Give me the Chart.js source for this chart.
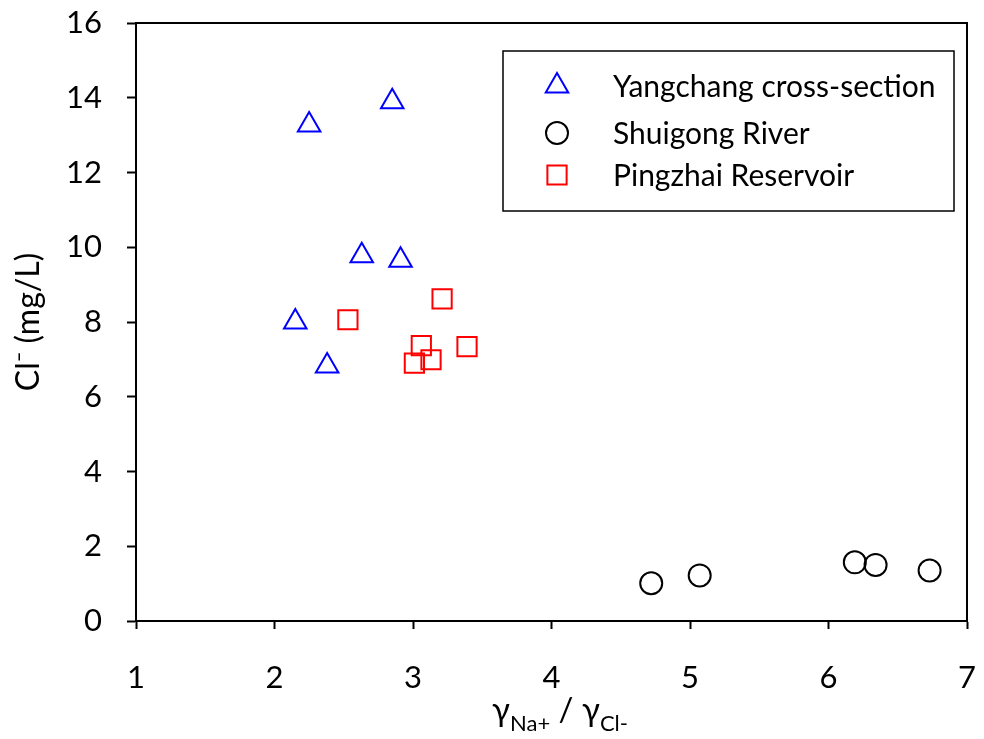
<!DOCTYPE html>
<html>
<head>
<meta charset="utf-8">
<script src="https://cdn.jsdelivr.net/npm/chart.js@4.4.0/dist/chart.umd.min.js"></script>
<style>
  html, body { margin: 0; padding: 0; background: #fff; }
  #wrap { width: 984px; height: 739px; position: relative; }
</style>
</head>
<body>
<div id="wrap"><canvas id="clChart"></canvas></div>
<script>
// Na+/Cl- ratio (x) against chloride concentration in mg/L (y)
const yangchangRatio = [2.25, 2.85, 2.63, 2.91, 2.15, 2.38];
const yangchangCl = [13.27, 13.89, 9.77, 9.65, 8.00, 6.82];

const shuigongRatio = [4.72, 5.07, 6.19, 6.34, 6.73];
const shuigongCl = [1.01, 1.22, 1.57, 1.50, 1.35];

const pingzhaiRatio = [2.53, 3.21, 3.06, 3.39, 3.13, 3.01];
const pingzhaiCl = [8.06, 8.62, 7.37, 7.34, 6.99, 6.90];

const seriesNames = ['Yangchang cross-section', 'Shuigong River', 'Pingzhai Reservoir'];
const xRange = [1, 7];
const yRange = [0, 16];

const FONT = 'Lato, "Open Sans", sans-serif';

function toPoints(xs, ys) {
    return xs.map((x, i) => ({ x: x, y: ys[i] }));
}

// Top and right edges of the plot frame
const frameBox = {
    id: 'frameBox',
    afterDraw(chart) {
        const { ctx, chartArea: a } = chart;
        ctx.save();
        ctx.strokeStyle = '#000';
        ctx.lineWidth = 2;
        ctx.beginPath();
        ctx.moveTo(a.left - 1, a.top);
        ctx.lineTo(a.right, a.top);
        ctx.lineTo(a.right, a.bottom);
        ctx.stroke();
        ctx.restore();
    }
};

// Boxed legend in the upper right corner
const boxLegend = {
    id: 'boxLegend',
    afterDraw(chart) {
        const ctx = chart.ctx;
        const rows = [86, 133, 175];
        ctx.save();
        ctx.strokeStyle = '#000';
        ctx.lineWidth = 1.5;
        ctx.strokeRect(503, 51, 451, 160);
        chart.data.datasets.forEach((ds, i) => {
            ctx.strokeStyle = ds.borderColor;
            ctx.fillStyle = 'rgba(0,0,0,0)';
            ctx.lineWidth = ds.borderWidth;
            Chart.helpers.drawPoint(ctx, {
                pointStyle: ds.pointStyle,
                radius: ds.pointRadius,
                rotation: 0,
                borderWidth: ds.borderWidth
            }, 557, rows[i]);
            ctx.fillStyle = '#000';
            ctx.font = '30px ' + FONT;
            ctx.textBaseline = 'middle';
            ctx.textAlign = 'left';
            ctx.fillText(ds.label, 613, rows[i] + 1);
        });
        ctx.restore();
    }
};

// x-axis title with subscripts: γNa+ / γCl-
const ratioTitle = {
    id: 'ratioTitle',
    afterDraw(chart) {
        const ctx = chart.ctx;
        const big = '33px ' + FONT;
        const small = '22px ' + FONT;
        const parts = [
            { t: '\u03B3', f: big, dy: 0 },
            { t: 'Na+', f: small, dy: 10 },
            { t: ' / ', f: big, dy: 0 },
            { t: '\u03B3', f: big, dy: 0 },
            { t: 'Cl-', f: small, dy: 10 }
        ];
        ctx.save();
        ctx.fillStyle = '#000';
        ctx.textBaseline = 'alphabetic';
        ctx.textAlign = 'left';
        let total = 0;
        parts.forEach(p => { ctx.font = p.f; p.w = ctx.measureText(p.t).width; total += p.w; });
        let x = 560 - total / 2;
        const base = 721;
        parts.forEach(p => {
            ctx.font = p.f;
            ctx.fillText(p.t, x, base + p.dy);
            x += p.w;
        });
        ctx.restore();
    }
};

const tickFont = { family: FONT, size: 31 };

new Chart(document.getElementById('clChart'), {
    type: 'scatter',
    data: {
        datasets: [
            {
                label: seriesNames[0],
                data: toPoints(yangchangRatio, yangchangCl),
                pointStyle: 'triangle',
                pointRadius: 13,
                borderColor: '#0000ff',
                backgroundColor: 'rgba(0,0,0,0)',
                borderWidth: 2
            },
            {
                label: seriesNames[1],
                data: toPoints(shuigongRatio, shuigongCl),
                pointStyle: 'circle',
                pointRadius: 11,
                borderColor: '#000000',
                backgroundColor: 'rgba(0,0,0,0)',
                borderWidth: 2
            },
            {
                label: seriesNames[2],
                data: toPoints(pingzhaiRatio, pingzhaiCl),
                pointStyle: 'rect',
                pointRadius: 13.6,
                borderColor: '#ff0000',
                backgroundColor: 'rgba(0,0,0,0)',
                borderWidth: 2
            }
        ]
    },
    options: {
        responsive: true,
        maintainAspectRatio: false,
        animation: false,
        layout: { padding: { top: 23, right: 17, left: 0, bottom: 0 } },
        plugins: {
            legend: { display: false },
            tooltip: { enabled: false }
        },
        scales: {
            x: {
                type: 'linear',
                min: xRange[0],
                max: xRange[1],
                ticks: { stepSize: 1, color: '#000', font: tickFont, padding: 30 },
                grid: { drawOnChartArea: false, drawTicks: true, tickLength: 8, tickColor: '#000', tickWidth: 2 },
                border: { color: '#000', width: 2 },
                afterFit: s => {
                    s.height = 118;
                    s.paddingLeft = 0;
                    s.paddingRight = 0;
                }
            },
            y: {
                min: yRange[0],
                max: yRange[1],
                ticks: { stepSize: 2, color: '#000', font: tickFont, padding: 25 },
                grid: { drawOnChartArea: false, drawTicks: true, tickLength: 9, tickColor: '#000', tickWidth: 2 },
                border: { color: '#000', width: 2 },
                title: {
                    display: true,
                    text: 'Cl\u207B (mg/L)',
                    color: '#000',
                    font: { family: FONT, size: 32 },
                    padding: { top: 9, bottom: 0 }
                },
                afterFit: s => {
                    s.width = 136;
                    s.paddingTop = 0;
                    s.paddingBottom = 0;
                }
            }
        }
    },
    plugins: [frameBox, boxLegend, ratioTitle]
});
</script>
</body>
</html>
